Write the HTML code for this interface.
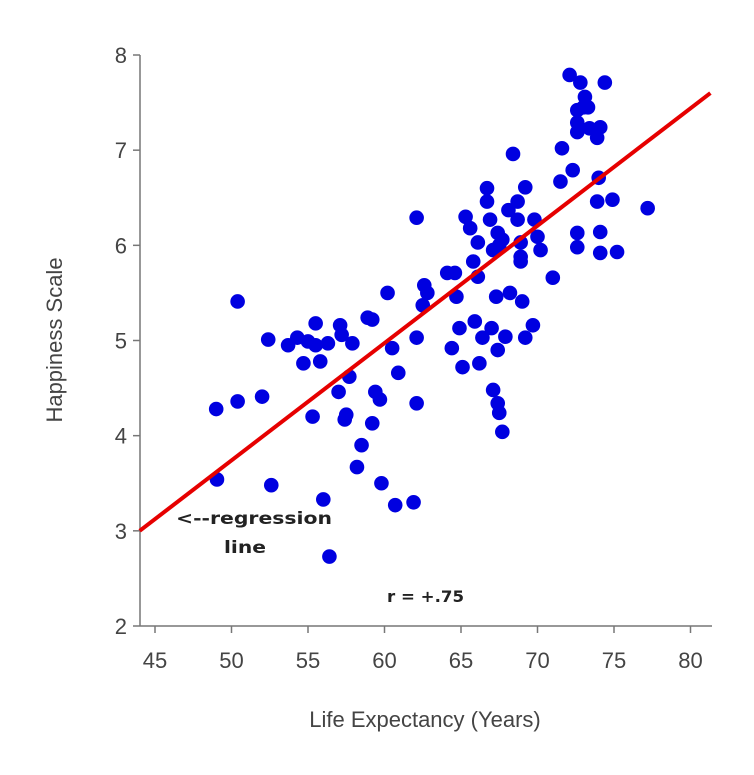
<!DOCTYPE html>
<html><head><meta charset="utf-8"><style>
html,body{margin:0;padding:0;background:#fff;}
svg{display:block;font-family:"Liberation Sans",sans-serif;}
</style></head><body>
<svg id="chart" width="754" height="775"></svg>
<script>
const xTicks=[45,50,55,60,65,70,75,80];
const yTicks=[2,3,4,5,6,7,8];
const lifeExp=[49.0,50.4,50.4,49.05,52.0,52.4,52.6,53.7,54.3,54.7,55.0,55.5,55.5,55.8,55.3,56.0,56.4,57.1,57.2,56.3,57.9,57.7,57.0,57.5,57.4,58.5,58.2,58.9,59.2,59.4,59.7,59.2,59.8,60.2,60.5,60.9,60.7,61.9,62.1,62.1,62.1,62.6,62.8,62.5,64.1,64.6,64.7,64.4,64.9,65.1,65.3,65.6,65.8,66.1,66.1,65.9,66.2,66.7,66.7,66.9,66.4,67.0,67.4,67.7,67.1,67.5,67.3,67.4,67.1,67.4,67.5,67.7,68.1,68.7,68.4,68.7,68.9,68.9,68.9,68.2,69.0,67.9,69.2,69.2,69.7,69.8,70.0,70.2,71.0,71.5,71.6,72.3,72.1,72.8,74.4,73.1,73.0,72.6,73.3,72.6,72.6,73.4,74.1,73.9,72.6,72.6,74.0,73.9,74.9,74.1,74.1,75.2,77.2];
const happiness=[4.28,5.41,4.36,3.54,4.41,5.01,3.48,4.95,5.03,4.76,4.99,5.18,4.95,4.78,4.20,3.33,2.73,5.16,5.06,4.97,4.97,4.62,4.46,4.22,4.17,3.90,3.67,5.24,5.22,4.46,4.38,4.13,3.50,5.50,4.92,4.66,3.27,3.30,4.34,5.03,6.29,5.58,5.50,5.37,5.71,5.71,5.46,4.92,5.13,4.72,6.30,6.18,5.83,6.03,5.67,5.20,4.76,6.60,6.46,6.27,5.03,5.13,6.13,6.06,5.95,6.00,5.46,4.90,4.48,4.34,4.24,4.04,6.37,6.46,6.96,6.27,6.03,5.88,5.83,5.50,5.41,5.04,6.61,5.03,5.16,6.27,6.09,5.95,5.66,6.67,7.02,6.79,7.79,7.71,7.71,7.56,7.45,7.42,7.45,7.29,7.19,7.23,7.24,7.13,6.13,5.98,6.71,6.46,6.48,6.14,5.92,5.93,6.39];
const regLine=[[44.0,3.0],[81.3,7.6]];

const NS="http://www.w3.org/2000/svg";
const svg=document.getElementById('chart');
const X0=140,X1=712,Y0=55,Y1=626;
function sx(v){return 155+(v-45)*15.3;}
function sy(v){return Y1-(v-2)*(Y1-Y0)/6;}
function mk(t,a){const e=document.createElementNS(NS,t);for(const k in a)e.setAttribute(k,a[k]);svg.appendChild(e);return e;}

let e;
e=mk('line',{x1:X0,y1:Y0,x2:X0,y2:Y1,stroke:'#777','stroke-width':1.5});


e=mk('line',{x1:X0,y1:Y1,x2:X1,y2:Y1,stroke:'#777','stroke-width':1.5});



yTicks.forEach(v=>{
  const y=sy(v);
  e=mk('line',{x1:X0-7,y1:y,x2:X0,y2:y,stroke:'#777','stroke-width':1.5});
  
  
  e=mk('text',{x:X0-13,y:y+8,'text-anchor':'end','font-size':22,fill:'#444'});
  e.textContent=v;
  
  
});
xTicks.forEach(v=>{
  const x=sx(v);
  e=mk('line',{x1:x,y1:Y1,x2:x,y2:Y1+7,stroke:'#777','stroke-width':1.5});
  
  
  e=mk('text',{x:x,y:Y1+42,'text-anchor':'middle','font-size':22,fill:'#444'});
  e.textContent=v;
  
  
});

lifeExp.forEach((v,i)=>{
  e=mk('circle',{cx:sx(v),cy:sy(happiness[i]),r:7.3,fill:'#0000e0'});
  
  
});

e=mk('line',{x1:sx(regLine[0][0]),y1:sy(regLine[0][1]),x2:sx(regLine[1][0]),y2:sy(regLine[1][1]),stroke:'#e60000','stroke-width':4});



e=mk('text',{x:62,y:340,'text-anchor':'middle','font-size':22,fill:'#444',transform:'rotate(-90 62 340)'});
e.textContent='Happiness Scale';


e=mk('text',{x:425,y:727,'text-anchor':'middle','font-size':22,fill:'#444'});
e.textContent='Life Expectancy (Years)';


e=mk('text',{x:176,y:524,'font-size':17,'font-weight':'bold','font-family':'DejaVu Sans, sans-serif',fill:'#222',textLength:156,lengthAdjust:'spacingAndGlyphs'});
e.textContent='<--regression';


e=mk('text',{x:224,y:553,'font-size':17,'font-weight':'bold','font-family':'DejaVu Sans, sans-serif',fill:'#222',textLength:42,lengthAdjust:'spacingAndGlyphs'});
e.textContent='line';


e=mk('text',{x:387,y:602,'font-size':16,'font-weight':'bold','font-family':'DejaVu Sans, sans-serif',fill:'#222',textLength:77,lengthAdjust:'spacingAndGlyphs'});
e.textContent='r = +.75';


</script>
</body></html>
